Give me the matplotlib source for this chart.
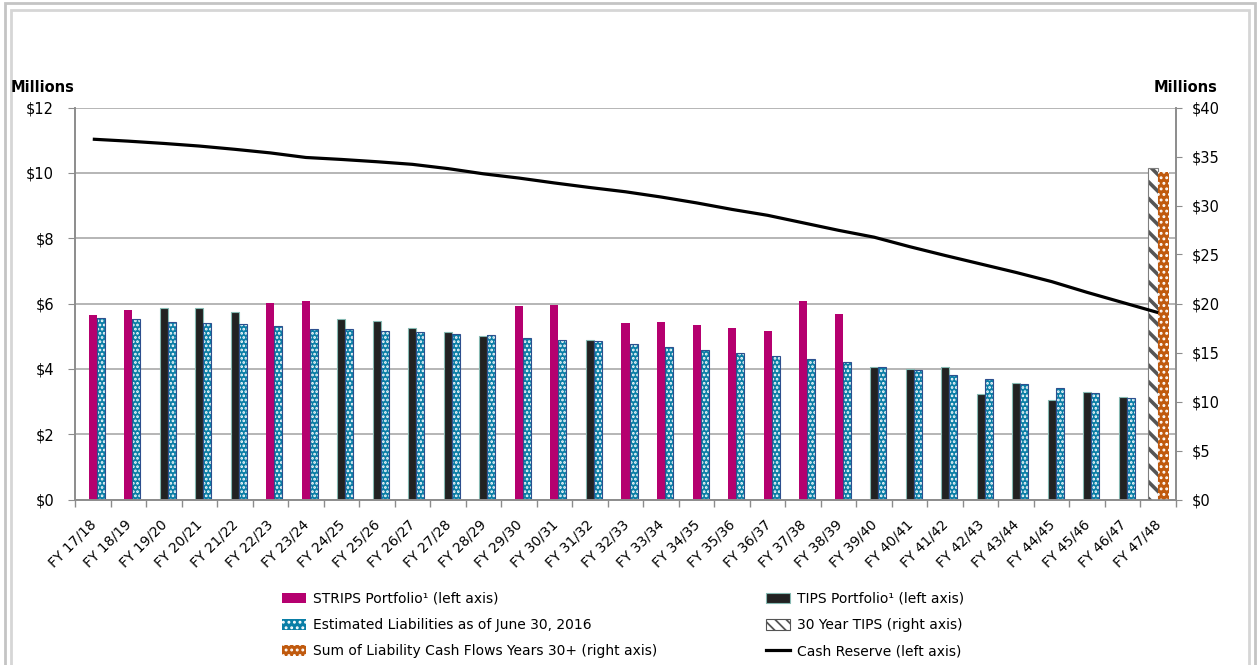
import numpy as np
import matplotlib
matplotlib.use('Agg')
import matplotlib.pyplot as plt
from matplotlib.patches import Patch, Rectangle
from matplotlib.lines import Line2D
import matplotlib.transforms as mtrans

nan = np.nan

years = ['FY 17/18', 'FY 18/19', 'FY 19/20', 'FY 20/21', 'FY 21/22', 'FY 22/23',
         'FY 23/24', 'FY 24/25', 'FY 25/26', 'FY 26/27', 'FY 27/28', 'FY 28/29',
         'FY 29/30', 'FY 30/31', 'FY 31/32', 'FY 32/33', 'FY 33/34', 'FY 34/35',
         'FY 35/36', 'FY 36/37', 'FY 37/38', 'FY 38/39', 'FY 39/40', 'FY 40/41',
         'FY 41/42', 'FY 42/43', 'FY 43/44', 'FY 44/45', 'FY 45/46', 'FY 46/47',
         'FY 47/48']

# left axis ($ millions)
strips = [5.66, 5.79, nan, nan, nan, 6.03, 6.07, nan, nan, nan, nan, nan,
          5.92, 5.95, nan, 5.40, 5.44, 5.34, 5.24, 5.17, 6.07, 5.69, nan, nan,
          nan, nan, nan, nan, nan, nan, nan]
tips = [nan, nan, 5.87, 5.87, 5.74, nan, nan, 5.54, 5.46, 5.26, 5.12, 5.00,
        nan, nan, 4.87, nan, nan, nan, nan, nan, nan, nan, 4.07, 3.99,
        4.07, 3.22, 3.58, 3.05, 3.29, 3.13, nan]
liab = [5.55, 5.52, 5.44, 5.40, 5.37, 5.30, 5.23, 5.21, 5.16, 5.13, 5.07, 5.03,
        4.95, 4.88, 4.84, 4.75, 4.68, 4.57, 4.47, 4.39, 4.29, 4.20, 4.06, 3.96,
        3.81, 3.68, 3.55, 3.40, 3.26, 3.10, nan]
cash = [11.03, 10.97, 10.90, 10.82, 10.72, 10.61, 10.47, 10.41, 10.34, 10.26,
        10.13, 9.97, 9.84, 9.69, 9.55, 9.42, 9.26, 9.08, 8.88, 8.70, 8.47, 8.24,
        8.03, 7.74, 7.47, 7.21, 6.95, 6.67, 6.34, 6.03, 5.72]
# right axis ($ millions)
tips30 = [nan] * 30 + [33.8]
sum30 = [nan] * 30 + [33.45]

c_strips = '#b5006f'
c_tips = '#222222'
c_liab = '#0a7ea6'
c_orange = '#c05a0e'
grid_c = '#a9a9a9'

plt.rcParams['font.family'] = ['DejaVu Sans']
plt.rcParams['hatch.linewidth'] = 1.3

W, H = 1257, 665
fig = plt.figure(figsize=(W / 100, H / 100), dpi=100)

def fx(p):
    return p / W

def fy(p):
    return 1 - p / H

# outer double frame (bottom runs off the picture)
fig.add_artist(Rectangle((fx(5), fy(720)), fx(1250), fy(3) - fy(720),
                         transform=fig.transFigure, fill=False, ec='#c4c4c4', lw=2))
fig.add_artist(Rectangle((fx(11), fy(720)), fx(1238), fy(10) - fy(720),
                         transform=fig.transFigure, fill=False, ec='#d6d6d6', lw=2))

ax = fig.add_axes([fx(75), fy(499.5), fx(1176 - 75), (499.5 - 107.5) / H])
ax2 = ax.twinx()

x = np.arange(len(years))
bw = 8 / 35.5
bw2 = 10.5 / 35.5

ax.bar(x, strips, bw, color=c_strips, lw=0)
ax.bar(x, tips, bw, color=c_tips, edgecolor='#86b9b2', lw=0.8)
ax.bar(x + bw, liab, bw, color=c_liab, edgecolor='white', hatch='....', lw=0)
ax.bar(x + bw, liab, bw, fill=False, edgecolor='#2d4f8e', lw=0.8)

with plt.rc_context({'hatch.linewidth': 2.6}):
    ax2.bar(x - bw2 / 2, tips30, bw2, color='white', edgecolor='#555555', hatch='\\\\', lw=0)
with plt.rc_context({'hatch.linewidth': 2.0}):
    h_30 = Patch(facecolor='white', edgecolor='#555555', hatch='\\\\\\', lw=0.8)
ax2.bar(x - bw2 / 2, tips30, bw2, fill=False, edgecolor='#7f7f7f', lw=0.8)
ax2.bar(x + bw2 / 2, sum30, bw2, color=c_orange, edgecolor='white', hatch='...', lw=0)
ax2.plot(x, cash, color='black', lw=2.3, transform=ax.transData, solid_capstyle='butt')

ax.set_xlim(-0.5, len(years) - 0.5)
ax.set_ylim(0, 12)
ax2.set_ylim(0, 40)
ax.set_yticks(np.arange(0, 13, 2))
ax.set_yticklabels(['$%d' % v for v in range(0, 13, 2)])
ax2.set_yticks(np.arange(0, 41, 5))
ax2.set_yticklabels(['$%d' % v for v in range(0, 41, 5)])
ax.grid(axis='y', color=grid_c, lw=1.2)
ax.set_axisbelow(True)

ax.set_xticks(x)
ax.set_xticklabels(years, rotation=45, ha='right', rotation_mode='anchor')
ax.set_xticks(np.arange(-0.5, len(years), 1), minor=True)
ax.tick_params(axis='x', which='major', length=0, pad=13, labelsize=10)
ax.tick_params(axis='x', which='minor', length=5, color='#8c8c8c', width=1)
shift = mtrans.ScaledTranslation(-4 / 100, 0, fig.dpi_scale_trans)
for lab in ax.get_xticklabels():
    lab.set_transform(lab.get_transform() + shift)

ax.tick_params(axis='y', length=5, color='#8c8c8c', pad=10, labelsize=10.5)
ax2.tick_params(axis='y', length=4, color='#8c8c8c', pad=7, labelsize=10.5)

for a in (ax, ax2):
    a.spines['top'].set_visible(False)
    for s in ('left', 'right', 'bottom'):
        a.spines[s].set_color('#8c8c8c')
        a.spines[s].set_linewidth(1.2)

fig.text(fx(43), fy(87), 'Millions', ha='center', va='center', fontsize=10.5, fontweight='bold')
fig.text(fx(1186), fy(87), 'Millions', ha='center', va='center', fontsize=10.5, fontweight='bold')

h_strips = Patch(facecolor=c_strips, lw=0)
h_liab = Patch(facecolor=c_liab, edgecolor='white', hatch='...', lw=0)
h_sum = Patch(facecolor=c_orange, edgecolor='white', hatch='...', lw=0)
h_tips = Patch(facecolor=c_tips, edgecolor='#86b9b2', lw=0.8)
h_cash = Line2D([], [], color='black', lw=2.3)

leg_kw = dict(loc='upper left', frameon=False, fontsize=10, borderpad=0, borderaxespad=0,
              handlelength=1.75, handleheight=0.8, handletextpad=0.45, labelspacing=0.88)
fig.legend([h_strips, h_liab, h_sum],
           ['STRIPS Portfolio\u00b9 (left axis)', 'Estimated Liabilities as of June 30, 2016',
            'Sum of Liability Cash Flows Years 30+ (right axis)'],
           bbox_to_anchor=(fx(282), fy(592)), **leg_kw)
fig.legend([h_tips, h_30, h_cash],
           ['TIPS Portfolio\u00b9 (left axis)', '30 Year TIPS (right axis)', 'Cash Reserve (left axis)'],
           bbox_to_anchor=(fx(766), fy(592)), **leg_kw)

fig.savefig('out.png', dpi=100)
